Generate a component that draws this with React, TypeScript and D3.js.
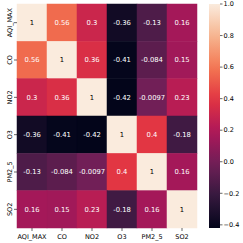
import React from 'react';
import * as d3 from 'd3';

const labels = ['AQI_MAX', 'CO', 'NO2', 'O3', 'PM2_5', 'SO2'];
const corr = [
  [1, 0.56, 0.3, -0.36, -0.13, 0.16],
  [0.56, 1, 0.36, -0.41, -0.084, 0.15],
  [0.3, 0.36, 1, -0.42, -0.0097, 0.23],
  [-0.36, -0.41, -0.42, 1, 0.4, -0.18],
  [-0.13, -0.084, -0.0097, 0.4, 1, 0.16],
  [0.16, 0.15, 0.23, -0.18, 0.16, 1],
];
const cbarTicks = [-0.4, -0.2, 0.0, 0.2, 0.4, 0.6, 0.8, 1.0];

// seaborn "rocket" approximated by its palette stops
const rocketStops = ['#03051a', '#35193e', '#701f57', '#ad1759', '#e13342', '#f37651', '#f6b48f', '#faebdd'];
const rocketPos = [0, 1 / 7, 2 / 7, 3 / 7, 4 / 7, 5 / 7, 6 / 7, 1];

const vmin = -0.42;
const vmax = 1;

const rocket = d3.scaleLinear<string>().domain(rocketPos).range(rocketStops).interpolate(d3.interpolateRgb);
const color = (v: number) => rocket((v - vmin) / (vmax - vmin));

const textColor = (c: string) => {
  const rgb = d3.rgb(c);
  const lin = (u: number) => {
    const s = u / 255;
    return s <= 0.03928 ? s / 12.92 : Math.pow((s + 0.055) / 1.055, 2.4);
  };
  const l = 0.2126 * lin(rgb.r) + 0.7152 * lin(rgb.g) + 0.0722 * lin(rgb.b);
  return l > 0.408 ? '#000' : '#fff';
};

const fmt = (v: number) => String(v);

const App = () => {
  const left = 17, right = 197, top = 4, bottom = 228;
  const x = d3.scaleBand().domain(labels).range([left, right]);
  const y = d3.scaleBand().domain(labels).range([top, bottom]);

  const cbX = 209, cbW = 11;
  const cbY = d3.scaleLinear().domain([vmin, vmax]).range([bottom, top]);
  const gradStops = d3.range(0, 1.0001, 0.05);

  return (
    <svg width={243} height={243} style={{ position: 'absolute', left: 0, top: 0, fontFamily: 'DejaVu Sans' }}>
      <rect width={243} height={243} fill="#fff" />
      <defs>
        <linearGradient id="cb" x1="0" y1="1" x2="0" y2="0">
          {gradStops.map((t) => (
            <stop key={t} offset={t} stopColor={rocket(t)} />
          ))}
        </linearGradient>
      </defs>
      {corr.map((row, i) =>
        row.map((v, j) => {
          const c = color(v);
          return (
            <g key={`${i}-${j}`}>
              <rect x={x(labels[j])} y={y(labels[i])} width={x.bandwidth()} height={y.bandwidth()} fill={c} stroke={c} strokeWidth={0.5} />
              <text
                x={x(labels[j])! + x.bandwidth() / 2}
                y={y(labels[i])! + y.bandwidth() / 2}
                dy="0.35em"
                textAnchor="middle"
                fontSize={6.8}
                fill={textColor(c)}
              >
                {fmt(v)}
              </text>
            </g>
          );
        })
      )}
      {labels.map((l) => (
        <g key={'x' + l}>
          <line x1={x(l)! + x.bandwidth() / 2} x2={x(l)! + x.bandwidth() / 2} y1={bottom} y2={bottom + 3} stroke="#000" strokeWidth={0.6} />
          <text x={x(l)! + x.bandwidth() / 2} y={bottom + 6} dy="0.75em" textAnchor="middle" fontSize={6.5} fill="#000">
            {l}
          </text>
        </g>
      ))}
      {labels.map((l) => {
        const cy = y(l)! + y.bandwidth() / 2;
        return (
          <g key={'y' + l}>
            <line x1={left - 3} x2={left} y1={cy} y2={cy} stroke="#000" strokeWidth={0.6} />
            <text transform={`translate(${left - 5},${cy}) rotate(-90)`} textAnchor="middle" fontSize={6.5} fill="#000">
              {l}
            </text>
          </g>
        );
      })}
      <rect x={cbX} y={top} width={cbW} height={bottom - top} fill="url(#cb)" />
      {cbarTicks.map((t) => (
        <g key={'c' + t}>
          <line x1={cbX + cbW} x2={cbX + cbW + 2.5} y1={cbY(t)} y2={cbY(t)} stroke="#000" strokeWidth={0.6} />
          <text x={cbX + cbW + 3.5} y={cbY(t)} dy="0.35em" fontSize={6.5} fill="#000">
            {t < 0 ? '\u2212' + Math.abs(t).toFixed(1) : t.toFixed(1)}
          </text>
        </g>
      ))}
    </svg>
  );
};

export default App;
